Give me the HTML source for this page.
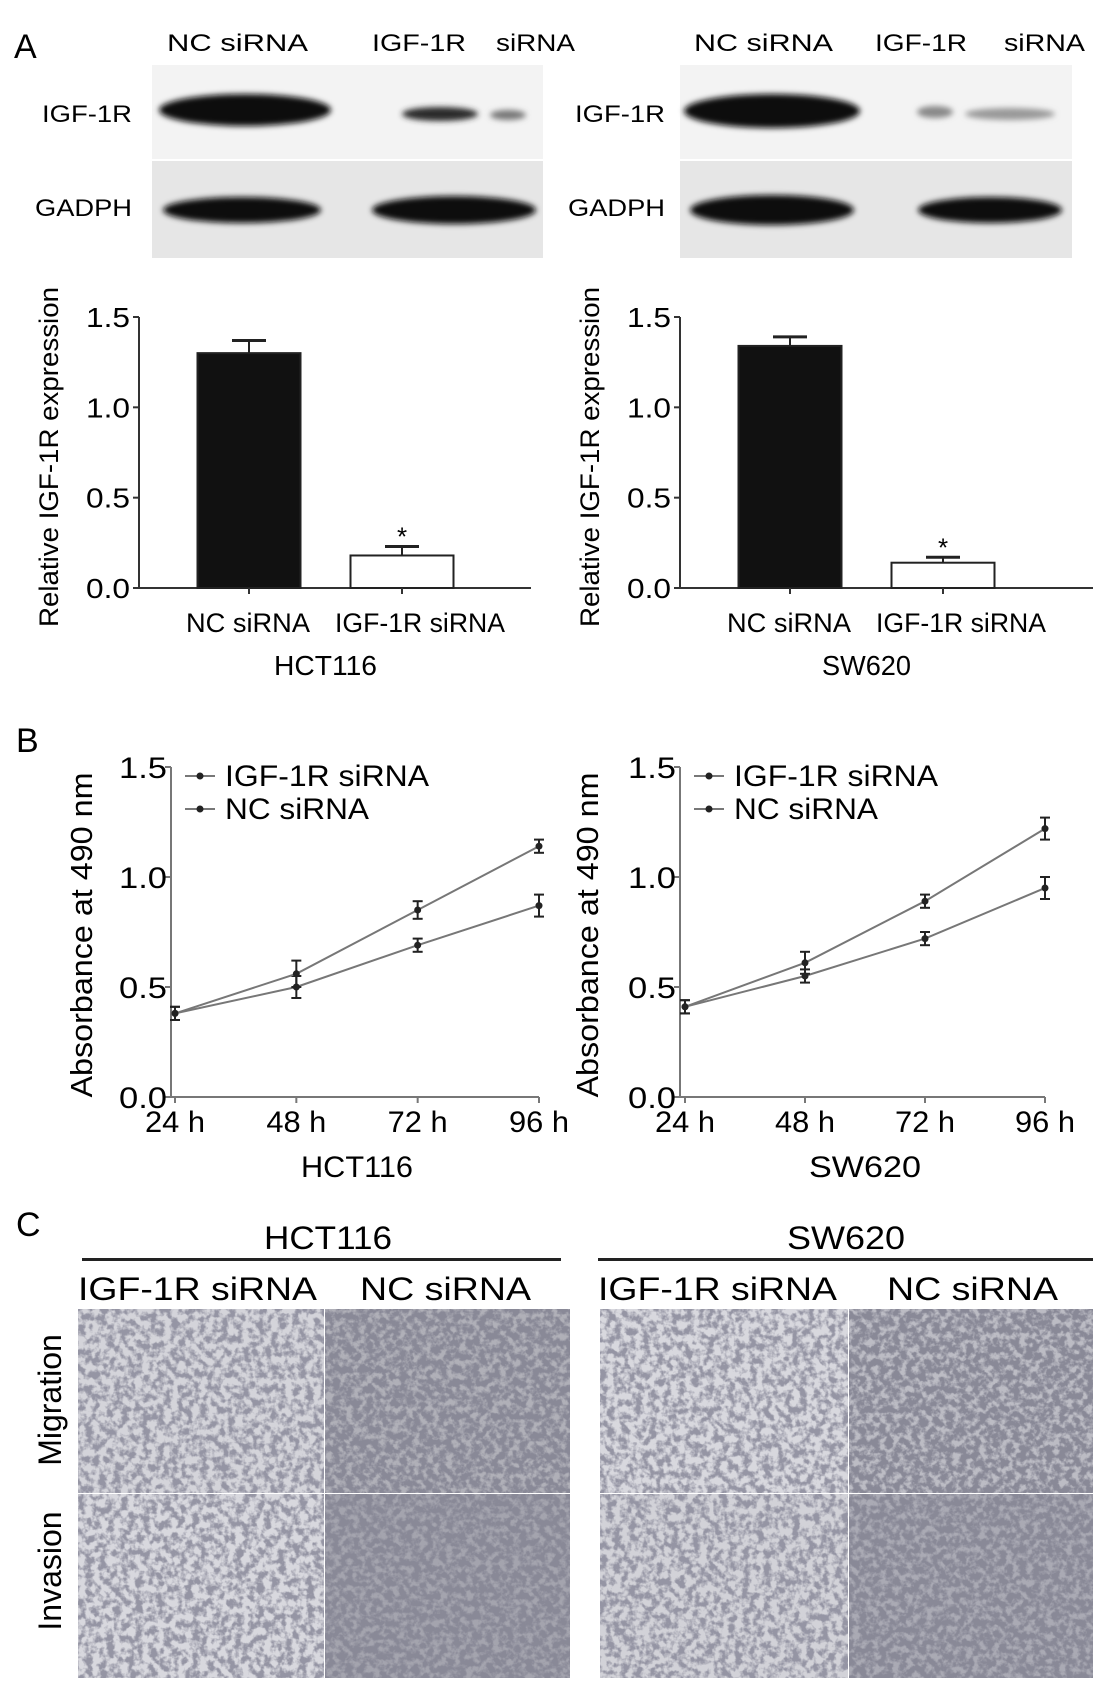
<!DOCTYPE html>
<html><head><meta charset="utf-8"><style>
body{margin:0;background:#fff;}
svg{display:block;font-family:"Liberation Sans",sans-serif;}
</style></head><body>
<svg id="fig" width="1111" height="1696" viewBox="0 0 1111 1696">
<defs>
<filter id="blur3" x="-20%" y="-50%" width="140%" height="200%"><feGaussianBlur stdDeviation="3"/></filter>
<filter id="cellsL" x="0" y="0" width="100%" height="100%">
<feTurbulence type="fractalNoise" baseFrequency="0.14" numOctaves="3" seed="3"/>
<feColorMatrix type="matrix" values="0 0 0 0 0.3  0 0 0 0 0.3  0 0 0 0 0.37  -4 0 0 0 2.4"/>
</filter>
<filter id="cellsD" x="0" y="0" width="100%" height="100%">
<feTurbulence type="fractalNoise" baseFrequency="0.15" numOctaves="3" seed="7"/>
<feColorMatrix type="matrix" values="0 0 0 0 0.25  0 0 0 0 0.25  0 0 0 0 0.31  -4 0 0 0 2.7"/>
</filter>
</defs>

<text x="14" y="58" font-size="34">A</text>
<text x="16" y="752" font-size="34">B</text>
<text x="16" y="1236" font-size="34">C</text>

<g>
<text x="167" y="51" font-size="24" textLength="141" lengthAdjust="spacingAndGlyphs">NC  siRNA</text>
<text x="372" y="51" font-size="24" textLength="94" lengthAdjust="spacingAndGlyphs">IGF-1R</text>
<text x="496" y="51" font-size="24" textLength="79" lengthAdjust="spacingAndGlyphs">siRNA</text>
<rect x="152" y="65" width="391" height="94" fill="#f3f3f3"/>
<rect x="152" y="161" width="391" height="97" fill="#e6e6e6"/>
<g filter="url(#blur3)">
<ellipse cx="245" cy="110" rx="86" ry="16" fill="#0c0c0c"/>
<ellipse cx="440" cy="114" rx="38" ry="7" fill="#2a2a2a"/>
<ellipse cx="508" cy="115" rx="18" ry="5" fill="#777"/>
<ellipse cx="242" cy="210" rx="79" ry="13" fill="#0c0c0c"/>
<ellipse cx="454" cy="210" rx="82" ry="14" fill="#0c0c0c"/>
</g>
<text x="132" y="122" font-size="24" text-anchor="end" textLength="90" lengthAdjust="spacingAndGlyphs">IGF-1R</text>
<text x="132" y="216" font-size="24" text-anchor="end" textLength="97" lengthAdjust="spacingAndGlyphs">GADPH</text>
</g>
<g>
<text x="694" y="51" font-size="24" textLength="139" lengthAdjust="spacingAndGlyphs">NC  siRNA</text>
<text x="875" y="51" font-size="24" textLength="92" lengthAdjust="spacingAndGlyphs">IGF-1R</text>
<text x="1004" y="51" font-size="24" textLength="81" lengthAdjust="spacingAndGlyphs">siRNA</text>
<rect x="680" y="65" width="392" height="94" fill="#f3f3f3"/>
<rect x="680" y="161" width="392" height="97" fill="#e6e6e6"/>
<g filter="url(#blur3)">
<ellipse cx="772" cy="111" rx="88" ry="17" fill="#0c0c0c"/>
<ellipse cx="935" cy="112" rx="18" ry="6" fill="#888"/>
<ellipse cx="1010" cy="114" rx="45" ry="6" fill="#999"/>
<ellipse cx="772" cy="210" rx="82" ry="15" fill="#0c0c0c"/>
<ellipse cx="990" cy="210" rx="72" ry="13" fill="#111"/>
</g>
<text x="665" y="122" font-size="24" text-anchor="end" textLength="90" lengthAdjust="spacingAndGlyphs">IGF-1R</text>
<text x="665" y="216" font-size="24" text-anchor="end" textLength="97" lengthAdjust="spacingAndGlyphs">GADPH</text>
</g>

<g id="barCharts"></g>
<g id="lineCharts"></g>

<g>
<text x="328" y="1249" font-size="32" text-anchor="middle" textLength="128" lengthAdjust="spacingAndGlyphs">HCT116</text>
<text x="846" y="1249" font-size="32" text-anchor="middle" textLength="118" lengthAdjust="spacingAndGlyphs">SW620</text>
<rect x="82" y="1258" width="479" height="3" fill="#222"/>
<rect x="598" y="1258" width="495" height="3" fill="#222"/>
<text x="78" y="1300" font-size="32" textLength="239" lengthAdjust="spacingAndGlyphs">IGF-1R siRNA</text>
<text x="360" y="1300" font-size="32" textLength="171" lengthAdjust="spacingAndGlyphs">NC siRNA</text>
<text x="598" y="1300" font-size="32" textLength="239" lengthAdjust="spacingAndGlyphs">IGF-1R siRNA</text>
<text x="887" y="1300" font-size="32" textLength="171" lengthAdjust="spacingAndGlyphs">NC siRNA</text>
<text transform="translate(61,1400) rotate(-90)" font-size="32" text-anchor="middle">Migration</text>
<text transform="translate(61,1571) rotate(-90)" font-size="32" text-anchor="middle">Invasion</text>
<g><rect x="78" y="1309" width="246" height="184" fill="#d4d4da"/><rect x="78" y="1309" width="246" height="184" filter="url(#cellsL)"/></g>
<g><rect x="325" y="1309" width="245" height="184" fill="#b0b0b8"/><rect x="325" y="1309" width="245" height="184" filter="url(#cellsD)"/></g>
<g><rect x="78" y="1494" width="246" height="184" fill="#d8d8de"/><rect x="78" y="1494" width="246" height="184" filter="url(#cellsL)"/></g>
<g><rect x="325" y="1494" width="245" height="184" fill="#a4a4ae"/><rect x="325" y="1494" width="245" height="184" filter="url(#cellsD)"/></g>
<g><rect x="600" y="1309" width="248" height="184" fill="#d8d8de"/><rect x="600" y="1309" width="248" height="184" filter="url(#cellsL)"/></g>
<g><rect x="849" y="1309" width="244" height="184" fill="#bcbcc4"/><rect x="849" y="1309" width="244" height="184" filter="url(#cellsD)"/></g>
<g><rect x="600" y="1494" width="248" height="184" fill="#d2d2d8"/><rect x="600" y="1494" width="248" height="184" filter="url(#cellsL)"/></g>
<g><rect x="849" y="1494" width="244" height="184" fill="#aaaab4"/><rect x="849" y="1494" width="244" height="184" filter="url(#cellsD)"/></g>
</g>
</svg>
<script>
// Bar chart data (panel A)
const barCategories = ["NC siRNA", "IGF-1R siRNA"];
const barHCT116 = [1.30, 0.18];
const barHCT116Err = [0.07, 0.05];
const barSW620 = [1.34, 0.14];
const barSW620Err = [0.05, 0.03];
const barTicks = ["0.0", "0.5", "1.0", "1.5"];
// Line chart data (panel B)
const timeLabels = ["24 h", "48 h", "72 h", "96 h"];
const hctIGF = [0.38, 0.50, 0.69, 0.87];
const hctIGFErr = [0.03, 0.05, 0.03, 0.05];
const hctNC = [0.38, 0.56, 0.85, 1.14];
const hctNCErr = [0.03, 0.06, 0.04, 0.03];
const swIGF = [0.41, 0.55, 0.72, 0.95];
const swIGFErr = [0.03, 0.03, 0.03, 0.05];
const swNC = [0.41, 0.61, 0.89, 1.22];
const swNCErr = [0.03, 0.05, 0.03, 0.05];
const lineTicks = ["0.0", "0.5", "1.0", "1.5"];

const NS = "http://www.w3.org/2000/svg";
function mk(tag, attrs, parent, text) {
  const e = document.createElementNS(NS, tag);
  for (const k in attrs) e.setAttribute(k, attrs[k]);
  if (text !== undefined) e.textContent = text;
  parent.appendChild(e);
  return e;
}

function barChart(parent, ax, ax2, vals, errs, cellName, cellW, yTitleX, name) {
  const g = mk("g", {}, parent);
  
  
  const y0 = 588, y1 = 317;
  const y = v => y0 - (v / 1.5) * (y0 - y1);
  const bw = 103, centers = [ax + 110, ax + 263];
  const xw = [124, 170], xoff = [-1, 18];
  mk("line", {x1: ax, y1: y1, x2: ax, y2: y0 + 1, stroke: "#333", "stroke-width": 2}, g);
  mk("line", {x1: ax - 1, y1: y0, x2: ax2, y2: y0, stroke: "#333", "stroke-width": 2}, g);
  barTicks.forEach(t => {
    const yy = y(parseFloat(t));
    mk("line", {x1: ax - 6, y1: yy, x2: ax, y2: yy, stroke: "#333", "stroke-width": 2}, g);
    const tl = mk("text", {x: ax - 9, y: yy + 10, "font-size": 28, "text-anchor": "end", textLength: 44, lengthAdjust: "spacingAndGlyphs"}, g, t);
    
    
  });
  vals.forEach((v, i) => {
    const cx = centers[i];
    const top = y(v + errs[i]);
    mk("line", {x1: cx, y1: top, x2: cx, y2: y(v), stroke: "#222", "stroke-width": 2}, g);
    mk("line", {x1: cx - 17, y1: top, x2: cx + 17, y2: top, stroke: "#222", "stroke-width": 3}, g);
    const b = mk("rect", {x: cx - bw / 2, y: y(v), width: bw, height: y0 - y(v),
      fill: i === 0 ? "#111" : "#fff", stroke: "#222", "stroke-width": 2}, g);
    
    
    mk("line", {x1: cx, y1: y0, x2: cx, y2: y0 + 6, stroke: "#333", "stroke-width": 2}, g);
    if (i === 1) mk("text", {x: cx, y: top - 1, "font-size": 26, "text-anchor": "middle"}, g, "*");
    const xl = mk("text", {x: cx + xoff[i], y: 632, "font-size": 27, "text-anchor": "middle", textLength: xw[i], lengthAdjust: "spacingAndGlyphs"}, g, barCategories[i]);
    
    
  });
  const cl = mk("text", {x: (centers[0] + centers[1]) / 2, y: 675, "font-size": 28, "text-anchor": "middle", textLength: cellW, lengthAdjust: "spacingAndGlyphs"}, g, cellName);
  
  
  const yt = mk("text", {transform: "translate(" + yTitleX + ",457) rotate(-90)", "font-size": 27, "text-anchor": "middle", textLength: 340, lengthAdjust: "spacingAndGlyphs"}, g, "Relative IGF-1R expression");
  
  
}
const bc = document.getElementById("barCharts");
barChart(bc, 139, 531, barHCT116, barHCT116Err, "HCT116", 103, 58, "bar-chart-hct116");
barChart(bc, 680, 1093, barSW620, barSW620Err, "SW620", 89, 599, "bar-chart-sw620");

function lineChart(parent, ax, xs, igf, igfE, nc, ncE, cellName, yTitleX, name) {
  const g = mk("g", {}, parent);
  
  
  const y0 = 1097, y1 = 767;
  const y = v => y0 - (v / 1.5) * (y0 - y1);
  const x = i => xs[0] + i * (xs[1] - xs[0]) / 3;
  mk("line", {x1: ax, y1: y1, x2: ax, y2: y0, stroke: "#777", "stroke-width": 2}, g);
  mk("line", {x1: ax - 4, y1: y0, x2: x(3), y2: y0, stroke: "#777", "stroke-width": 2}, g);
  lineTicks.forEach(t => {
    const yy = y(parseFloat(t));
    mk("line", {x1: ax - 6, y1: yy, x2: ax, y2: yy, stroke: "#777", "stroke-width": 2}, g);
    const tl = mk("text", {x: ax - 4, y: yy + 11, "font-size": 30, "text-anchor": "end", textLength: 48, lengthAdjust: "spacingAndGlyphs"}, g, t);
    
    
  });
  timeLabels.forEach((t, i) => {
    mk("line", {x1: x(i), y1: y0, x2: x(i), y2: y0 + 6, stroke: "#777", "stroke-width": 2}, g);
    const tl = mk("text", {x: x(i), y: 1132, "font-size": 30, "text-anchor": "middle", textLength: 60, lengthAdjust: "spacingAndGlyphs"}, g, t);
    
    
  });
  [[igf, igfE, "igf1r"], [nc, ncE, "nc"]].forEach(([vals, errs, nm]) => {
    const pts = vals.map((v, i) => x(i) + "," + y(v)).join(" ");
    const pl = mk("polyline", {points: pts, fill: "none", stroke: "#777", "stroke-width": 2}, g);
    
    
    vals.forEach((v, i) => {
      const cx = x(i), t = y(v + errs[i]), b = y(v - errs[i]);
      mk("line", {x1: cx, y1: t, x2: cx, y2: b, stroke: "#222", "stroke-width": 2}, g);
      mk("line", {x1: cx - 5, y1: t, x2: cx + 5, y2: t, stroke: "#222", "stroke-width": 2}, g);
      mk("line", {x1: cx - 5, y1: b, x2: cx + 5, y2: b, stroke: "#222", "stroke-width": 2}, g);
      const p = mk("circle", {cx: cx, cy: y(v), r: 3.5, fill: "#222"}, g);
      
      
    });
  });
  const lx = ax + 14;
  [["IGF-1R siRNA", 786, 204], ["NC siRNA", 819, 144]].forEach(([lab, ly, w]) => {
    const le = mk("g", {}, g);
    
    
    mk("line", {x1: lx, y1: ly - 10, x2: lx + 30, y2: ly - 10, stroke: "#777", "stroke-width": 2}, le);
    mk("circle", {cx: lx + 15, cy: ly - 10, r: 3.5, fill: "#222"}, le);
    mk("text", {x: lx + 40, y: ly, "font-size": 30, textLength: w, lengthAdjust: "spacingAndGlyphs"}, le, lab);
  });
  const cl = mk("text", {x: (xs[0] + xs[1]) / 2, y: 1177, "font-size": 30, "text-anchor": "middle", textLength: 112, lengthAdjust: "spacingAndGlyphs"}, g, cellName);
  
  
  const yt = mk("text", {transform: "translate(" + yTitleX + ",935) rotate(-90)", "font-size": 31, "text-anchor": "middle", textLength: 325, lengthAdjust: "spacingAndGlyphs"}, g, "Absorbance at 490 nm");
  
  
}
const lc = document.getElementById("lineCharts");
lineChart(lc, 171, [175, 539], hctIGF, hctIGFErr, hctNC, hctNCErr, "HCT116", 92, "line-chart-hct116");
lineChart(lc, 680, [685, 1045], swIGF, swIGFErr, swNC, swNCErr, "SW620", 598, "line-chart-sw620");
</script>
</body></html>
